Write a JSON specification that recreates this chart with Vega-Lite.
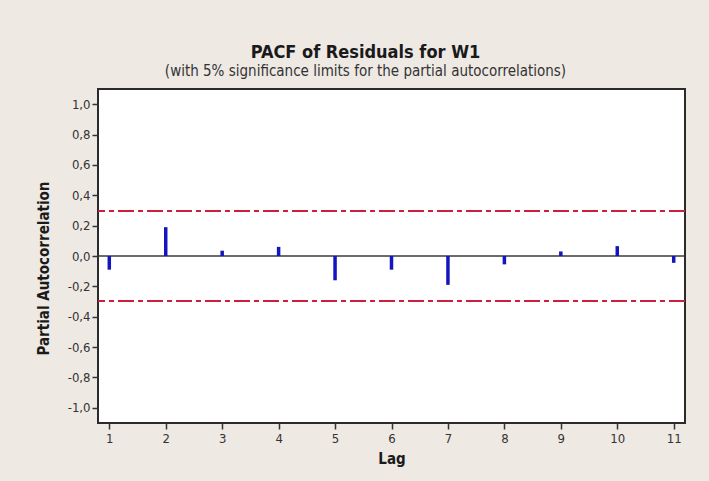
{
  "$schema": "https://vega.github.io/schema/vega-lite/v6.json",
  "autosize": {"type": "none"},
  "width": 587,
  "height": 334,
  "padding": {"left": 98, "top": 89, "right": 24, "bottom": 58},
  "background": "#EEE9E3",
  "title": {
    "text": "PACF of Residuals for W1",
    "subtitle": "(with 5% significance limits for the partial autocorrelations)",
    "anchor": "middle",
    "frame": "group",
    "dx": -26,
    "offset": 10,
    "font": "DejaVu Sans Condensed, Liberation Sans, sans-serif",
    "fontSize": 18,
    "fontWeight": "bold",
    "color": "#1a1a1a",
    "subtitleFont": "DejaVu Sans Condensed, Liberation Sans, sans-serif",
    "subtitleFontSize": 15,
    "subtitleColor": "#333333",
    "subtitlePadding": 2
  },
  "datasets": {
    "pacf": [
      {"lag": 1, "pacf": -0.09},
      {"lag": 2, "pacf": 0.19},
      {"lag": 3, "pacf": 0.035},
      {"lag": 4, "pacf": 0.06},
      {"lag": 5, "pacf": -0.16},
      {"lag": 6, "pacf": -0.09},
      {"lag": 7, "pacf": -0.19},
      {"lag": 8, "pacf": -0.055},
      {"lag": 9, "pacf": 0.03},
      {"lag": 10, "pacf": 0.065},
      {"lag": 11, "pacf": -0.045}
    ],
    "limits": [
      {"bound": "upper", "limit": 0.296},
      {"bound": "lower", "limit": -0.296}
    ],
    "baseline": [
      {"level": 0}
    ]
  },
  "layer": [
    {
      "data": {"name": "limits"},
      "mark": {"type": "rule", "color": "#CC1F3D", "strokeWidth": 2, "strokeDash": [16, 4, 5, 4]},
      "encoding": {
        "y": {
          "field": "limit",
          "type": "quantitative",
          "scale": {"domain": [-1.1, 1.1], "nice": false, "zero": false},
          "axis": {"values": [-1, -0.8, -0.6, -0.4, -0.2, 0, 0.2, 0.4, 0.6, 0.8, 1], "format": ".1f", "labelPadding": 2, "titlePadding": 16, "titleY": 179},
          "title": "Partial Autocorrelation"
        }
      }
    },
    {
      "data": {"name": "baseline"},
      "mark": {"type": "rule", "color": "#3a3a3a", "strokeWidth": 1.5},
      "encoding": {
        "y": {
          "field": "level",
          "type": "quantitative",
          "scale": {"domain": [-1.1, 1.1], "nice": false, "zero": false},
          "axis": {"values": [-1, -0.8, -0.6, -0.4, -0.2, 0, 0.2, 0.4, 0.6, 0.8, 1], "format": ".1f", "labelPadding": 2, "titlePadding": 16, "titleY": 179},
          "title": "Partial Autocorrelation"
        }
      }
    },
    {
      "data": {"name": "pacf"},
      "mark": {"type": "rule", "color": "#1515C0", "strokeWidth": 3.5},
      "encoding": {
        "x": {
          "field": "lag",
          "type": "quantitative",
          "scale": {"domain": [0.8, 11.2], "nice": false, "zero": false},
          "axis": {"values": [1, 2, 3, 4, 5, 6, 7, 8, 9, 10, 11], "format": "d", "labelPadding": 3, "titlePadding": 6},
          "title": "Lag"
        },
        "y": {
          "field": "pacf",
          "type": "quantitative",
          "scale": {"domain": [-1.1, 1.1], "nice": false, "zero": false},
          "axis": {"values": [-1, -0.8, -0.6, -0.4, -0.2, 0, 0.2, 0.4, 0.6, 0.8, 1], "format": ".1f", "labelPadding": 2, "titlePadding": 16, "titleY": 179},
          "title": "Partial Autocorrelation"
        },
        "y2": {"datum": 0}
      }
    }
  ],
  "config": {
    "locale": {
      "number": {"decimal": ",", "thousands": ".", "grouping": [3], "currency": ["", ""], "minus": "-"}
    },
    "view": {"fill": "white", "stroke": "#2b2b2b", "strokeWidth": 2},
    "axis": {
      "grid": false,
      "domain": false,
      "labelFont": "DejaVu Sans Condensed, Liberation Sans, sans-serif",
      "labelFontSize": 13,
      "labelColor": "#333333",
      "tickColor": "#333333",
      "tickSize": 6,
      "tickWidth": 1.5,
      "titleFont": "DejaVu Sans Condensed, Liberation Sans, sans-serif",
      "titleFontWeight": "bold",
      "titleFontSize": 15,
      "titleColor": "#1a1a1a"
    }
  }
}
